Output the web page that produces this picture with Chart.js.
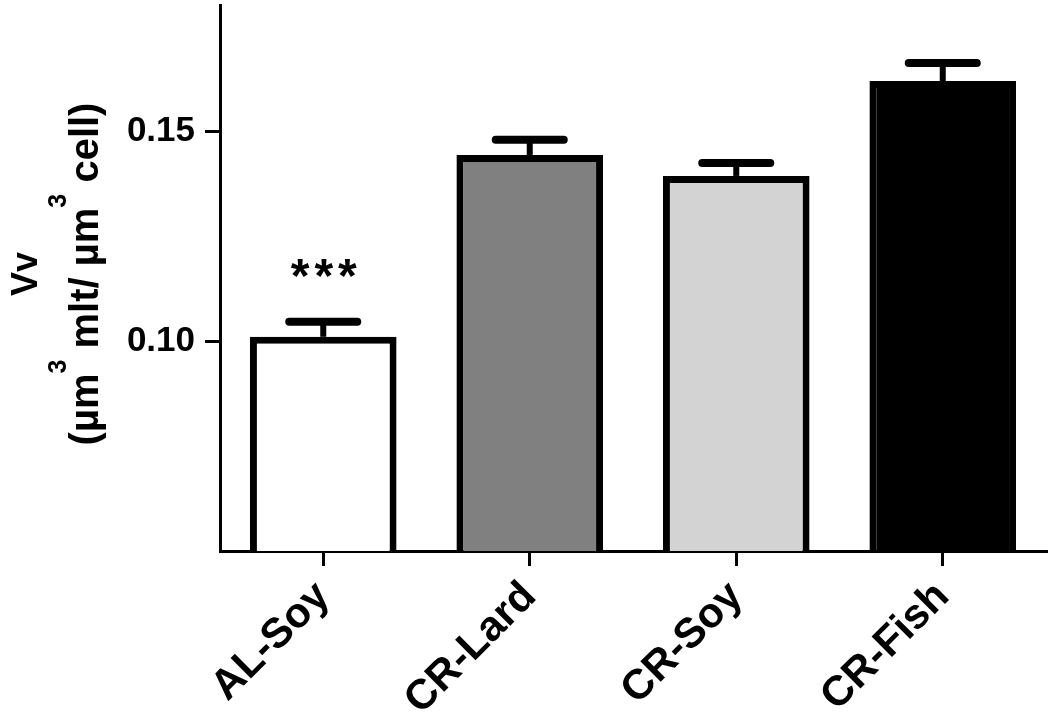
<!DOCTYPE html>
<html>
<head>
<meta charset="utf-8">
<script src="https://cdn.jsdelivr.net/npm/chart.js@4.4.1/dist/chart.umd.min.js"></script>
<style>
  html, body { margin: 0; padding: 0; background: #fff; }
  #wrap { width: 1050px; height: 716px; }
</style>
</head>
<body>
<div id="wrap"><canvas id="vvChart"></canvas></div>
<script>
// Vv (mitochondrial volume density) per diet group
const groups = ['AL-Soy', 'CR-Lard', 'CR-Soy', 'CR-Fish'];
const vvMean = [0.1010, 0.1443, 0.1393, 0.1619];
const vvSem = [0.0036, 0.0036, 0.0031, 0.0043];
const barFills = ['#ffffff', '#808080', '#d3d3d3', '#000000'];
const yTicks = [0.10, 0.15];
const signif = ['***', '', '', ''];
const yTitleMain = 'Vv';
// second title line: [text, superscript?]
const yTitleUnits = [['(\u00b5m', false], ['3', true], [' mlt/ \u00b5m', false], ['3', true], [' cell)', false]];

const fontFamily = '"Liberation Sans", Arial, sans-serif';

// error bars (mean + SEM, upper only) and significance stars
const errorBarPlugin = {
    id: 'errorBars',
    afterDatasetsDraw(chart) {
        const ctx = chart.ctx;
        const meta = chart.getDatasetMeta(0);
        const yScale = chart.scales.y;
        ctx.save();
        ctx.strokeStyle = '#000';
        meta.data.forEach((bar, i) => {
            const top = yScale.getPixelForValue(vvMean[i]);
            const capY = yScale.getPixelForValue(vvMean[i] + vvSem[i]);
            ctx.lineWidth = 6;
            ctx.lineCap = 'butt';
            ctx.beginPath();
            ctx.moveTo(bar.x, top);
            ctx.lineTo(bar.x, capY);
            ctx.stroke();
            ctx.lineWidth = 8;
            ctx.lineCap = 'round';
            ctx.beginPath();
            ctx.moveTo(bar.x - 34, capY);
            ctx.lineTo(bar.x + 34, capY);
            ctx.stroke();
            if (signif[i]) {
                ctx.fillStyle = '#000';
                ctx.font = 'bold 48px ' + fontFamily;
                ctx.textAlign = 'center';
                ctx.textBaseline = 'alphabetic';
                ctx.letterSpacing = '5px';
                ctx.fillText(signif[i], bar.x + 3, capY - 30);
            }
        });
        ctx.restore();
    }
};

// rotated y title with real superscripts
const yTitlePlugin = {
    id: 'yTitle',
    afterDraw(chart) {
        const ctx = chart.ctx;
        const area = chart.chartArea;
        const midY = (area.top + area.bottom) / 2 - 4;
        ctx.save();
        ctx.fillStyle = '#000';
        ctx.textBaseline = 'alphabetic';
        ctx.translate(0, midY);
        ctx.rotate(-Math.PI / 2);
        // first line
        ctx.font = 'bold 36px ' + fontFamily;
        ctx.textAlign = 'center';
        ctx.fillText(yTitleMain, 0, 37);
        // second line, measured piecewise
        const mainFont = 'bold 40px ' + fontFamily;
        const supFont = 'bold 25px ' + fontFamily;
        let total = 0;
        yTitleUnits.forEach(([t, sup]) => {
            ctx.font = sup ? supFont : mainFont;
            total += ctx.measureText(t).width;
        });
        let x = -total / 2;
        ctx.textAlign = 'left';
        yTitleUnits.forEach(([t, sup]) => {
            ctx.font = sup ? supFont : mainFont;
            ctx.fillText(t, x, sup ? 66 : 98);
            x += ctx.measureText(t).width;
        });
        ctx.restore();
    }
};

const ctx = document.getElementById('vvChart').getContext('2d');
new Chart(ctx, {
    type: 'bar',
    data: {
        labels: groups,
        datasets: [{
            data: vvMean,
            backgroundColor: barFills,
            borderColor: '#000',
            borderWidth: 7,
            borderSkipped: 'start',
            barPercentage: 0.71,
            categoryPercentage: 1.0
        }]
    },
    options: {
        responsive: true,
        maintainAspectRatio: false,
        animation: false,
        layout: { padding: { top: 5, right: 4, left: 0, bottom: 0 } },
        plugins: {
            legend: { display: false },
            tooltip: { enabled: false }
        },
        scales: {
            x: {
                grid: { offset: false, drawOnChartArea: false, drawTicks: true, tickLength: 15, lineWidth: 3, color: '#000' },
                border: { display: true, color: '#000', width: 3 },
                ticks: {
                    color: '#000',
                    font: { family: fontFamily, size: 42, weight: 'bold' },
                    minRotation: 45,
                    maxRotation: 45,
                    padding: 6
                },
                afterFit: scale => {
                    scale.height = 165;
                    scale.paddingLeft = 0;
                    scale.paddingRight = 0;
                }
            },
            y: {
                min: 0.05,
                max: 0.18,
                grid: { drawOnChartArea: false, drawTicks: true, tickLength: 15, lineWidth: 3, color: '#000' },
                border: { display: true, color: '#000', width: 3 },
                afterBuildTicks: scale => { scale.ticks = yTicks.map(v => ({ value: v })); },
                ticks: {
                    color: '#000',
                    font: { family: fontFamily, size: 35, weight: 'bold' },
                    padding: 10,
                    callback: v => v.toFixed(2)
                },
                afterFit: scale => {
                    scale.width = 220;
                    scale.paddingTop = 0;
                    scale.paddingBottom = 0;
                }
            }
        }
    },
    plugins: [errorBarPlugin, yTitlePlugin]
});
</script>
</body>
</html>
